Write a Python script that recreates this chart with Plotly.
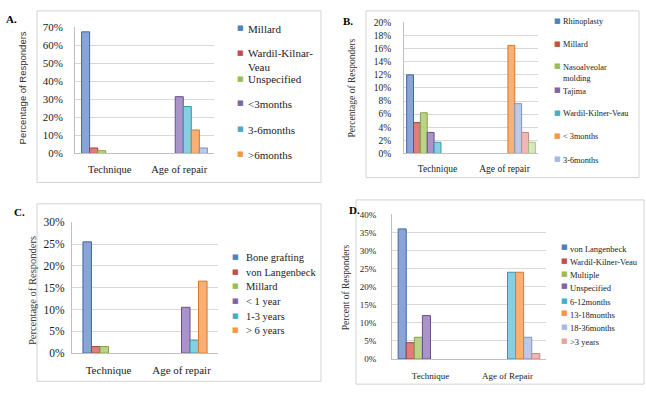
import plotly.graph_objects as go

W, H = 646, 395

# ---------------- data ----------------
A_categories = ["Technique", "Age of repair"]
A_series = ["Millard", "Wardil-Kilnar-<br>Veau", "Unspecified", "<3months", "3-6months", ">6months", "Other"]
A_technique = [67.5, 3.0, 1.5, 0, 0, 0, 0]
A_age = [0, 0, 0, 31.5, 26.0, 13.0, 3.0]
A_ticks = [0, 10, 20, 30, 40, 50, 60, 70]

B_categories = ["Technique", "Age of repair"]
B_series = ["Rhinoplasty", "Millard", "Nasoalveolar<br>molding", "Tajima", "Wardil-Kilner-Veau",
            "< 3months", "3-6months", "6-12months", ">12months"]
B_technique = [12.0, 4.7, 6.2, 3.2, 1.7, 0, 0, 0, 0]
B_age = [0, 0, 0, 0, 0, 16.5, 7.6, 3.2, 1.7]
B_ticks = [0, 2, 4, 6, 8, 10, 12, 14, 16, 18, 20]

C_categories = ["Technique", "Age of repair"]
C_series = ["Bone grafting", "von Langenbeck", "Millard", "< 1 year", "1-3 years", "> 6 years"]
C_technique = [25.5, 1.5, 1.5, 0, 0, 0]
C_age = [0, 0, 0, 10.5, 3.0, 16.5]
C_ticks = [0, 5, 10, 15, 20, 25, 30]

D_categories = ["Technique", "Age of Repair"]
D_series = ["von Langenbeck", "Wardil-Kilner-Veau", "Multiple", "Unspecified",
            "6-12months", "13-18months", "18-36months", ">3 years"]
D_technique = [36.0, 4.5, 6.0, 12.0, 0, 0, 0, 0]
D_age = [0, 0, 0, 0, 24.0, 24.0, 6.0, 1.5]
D_ticks = [0, 5, 10, 15, 20, 25, 30, 35, 40]

# ---------------- styles ----------------
FILL = ["#8AA4D6", "#E07D79", "#BCD386", "#AA93C8", "#86CFE2", "#F9B074", "#BCCAEA", "#F1B7B5", "#D9E8BC"]
EDGE = ["#3F67A6", "#A6403C", "#84A146", "#67508A", "#3895AC", "#D7782C", "#7F92C2", "#C78684", "#A6BE7C"]
KEY = ["#4F81BD", "#C0504D", "#9BBB59", "#8064A2", "#4BACC6", "#F79646", "#A7B9E3", "#E6A4A2", "#C9DBA5"]
SERIF = "Liberation Serif"
SANS = "Liberation Sans"

panels = [
    dict(key="A", cats=A_categories, names=A_series, tech=A_technique, age=A_age, ticks=A_ticks,
         nleg=6, plot=(75, 214, 22, 152), box=(37, 5, 321, 182), lab=(4, 13),
         ytitle="Percentage of Responders", ytpos=(22, 85), ytfont=(SANS, 9.5),
         tickfont=11, ystand=12, catfont=10.5, xstand=6, bargap=0.19,
         leg=dict(sq=241, tx=246, font=11, ys=[23, 48, 75, 100, 127, 153])),
    dict(key="B", cats=B_categories, names=B_series, tech=B_technique, age=B_age, ticks=B_ticks,
         nleg=7, plot=(404, 538, 17, 152), box=(366, 5, 639, 177), lab=(341, 15),
         ytitle="Percentage of Responders", ytpos=(352, 85), ytfont=(SERIF, 9.5),
         tickfont=9.5, ystand=13, catfont=9.5, xstand=6, bargap=0.08,
         leg=dict(sq=557, tx=561, font=8.3, ys=[15, 39, 62, 87, 110, 134, 158])),
    dict(key="C", cats=C_categories, names=C_series, tech=C_technique, age=C_age, ticks=C_ticks,
         nleg=6, plot=(72, 218, 223, 358), box=(37, 204, 321, 387), lab=(12, 212),
         ytitle="Percentage of Responders", ytpos=(32, 294), ytfont=(SERIF, 10.5),
         tickfont=11.5, ystand=7, catfont=11, xstand=7, bargap=0.3,
         leg=dict(sq=235, tx=244, font=10.5, ys=[259, 274, 289, 304, 320, 334])),
    dict(key="D", cats=D_categories, names=D_series, tech=D_technique, age=D_age, ticks=D_ticks,
         nleg=8, plot=(392, 546, 215, 364), box=(356, 200, 644, 390), lab=(347, 210),
         ytitle="Percent of Responders", ytpos=(346, 290), ytfont=(SERIF, 9.5),
         tickfont=9, ystand=16, catfont=9, xstand=8, bargap=0.16,
         leg=dict(sq=564, tx=568, font=8.5, ys=[249, 263, 276, 289, 304, 317, 331, 345])),
]


def fx(px):
    return px / W


def fy(py):
    return 1 - py / H


fig = go.Figure()
layout = dict(width=W, height=H, margin=dict(l=0, r=0, t=0, b=0),
              paper_bgcolor="white", plot_bgcolor="white", showlegend=False,
              barmode="overlay", hovermode=False)
shapes, annotations = [], []

for k, p in enumerate(panels):
    sfx = "" if k == 0 else str(k + 1)
    xa, ya = "x" + sfx, "y" + sfx
    x0, x1, yt, yb = p["plot"]
    n = len(p["names"])
    group = 1 - p["bargap"]
    bw = group / n
    for i, name in enumerate(p["names"]):
        vals = [p["tech"][i], p["age"][i]]
        fig.add_trace(go.Bar(
            x=p["cats"], y=[v if v else None for v in vals], name=name,
            xaxis=xa, yaxis=ya, width=bw, offset=-group / 2 + i * bw,
            marker=dict(color=FILL[i], line=dict(color=EDGE[i], width=1)), opacity=1,
        ))
    ymax = p["ticks"][-1]
    layout["xaxis" + sfx] = dict(
        domain=[fx(x0), fx(x1)], anchor=ya, type="category", categoryarray=p["cats"],
        range=[-0.5, len(p["cats"]) - 0.5],
        showline=True, linecolor="#BFBFBF", linewidth=1, showgrid=False,
        ticks="outside", ticklen=p["xstand"], tickcolor="rgba(0,0,0,0)",
        tickfont=dict(family=SERIF, size=p["catfont"], color="#1A1A1A"), fixedrange=True,
    )
    layout["yaxis" + sfx] = dict(
        domain=[fy(yb), fy(yt)], anchor=xa, range=[0, ymax], tickmode="array",
        tickvals=p["ticks"], ticktext=["%d%%" % t for t in p["ticks"]],
        showline=True, linecolor="#BFBFBF", linewidth=1,
        showgrid=True, gridcolor="#D9D9D9", gridwidth=1, zeroline=False,
        ticks="outside", ticklen=p["ystand"] - 3, tickcolor="rgba(0,0,0,0)",
        tickfont=dict(family=SERIF, size=p["tickfont"], color="#1A1A1A"), fixedrange=True,
    )
    # box around panel
    bx0, by0, bx1, by1 = p["box"]
    shapes.append(dict(type="rect", xref="paper", yref="paper",
                       x0=fx(bx0), x1=fx(bx1), y0=fy(by1), y1=fy(by0),
                       line=dict(color="#D3D3D3", width=1), layer="below"))
    # panel label
    annotations.append(dict(text="<b>%s.</b>" % p["key"], xref="paper", yref="paper",
                            x=fx(p["lab"][0]), y=fy(p["lab"][1]), xanchor="left", yanchor="middle",
                            showarrow=False, font=dict(family=SERIF, size=11, color="#000")))
    # y title
    annotations.append(dict(text=p["ytitle"], xref="paper", yref="paper", textangle=-90,
                            x=fx(p["ytpos"][0]), y=fy(p["ytpos"][1]), xanchor="center", yanchor="middle",
                            showarrow=False, font=dict(family=p["ytfont"][0], size=p["ytfont"][1], color="#333")))
    # legend entries
    lg = p["leg"]
    for i in range(p["nleg"]):
        cy = lg["ys"][i]
        annotations.append(dict(text="■", xref="paper", yref="paper",
                                x=fx(lg["sq"]), y=fy(cy), xanchor="center", yanchor="middle",
                                showarrow=False, font=dict(family="DejaVu Sans", size=7, color=KEY[i])))
        annotations.append(dict(text=p["names"][i], xref="paper", yref="paper", align="left",
                                x=fx(lg["tx"]), y=fy(cy - lg["font"] * 0.68), xanchor="left", yanchor="top",
                                showarrow=False, font=dict(family=SERIF, size=lg["font"], color="#1A1A1A")))

layout["shapes"] = shapes
layout["annotations"] = annotations
fig.update_layout(**layout)
fig.write_html("out.html", config={"displayModeBar": False},
               post_script="document.body.style.margin='0px';document.body.style.overflow='hidden';")
